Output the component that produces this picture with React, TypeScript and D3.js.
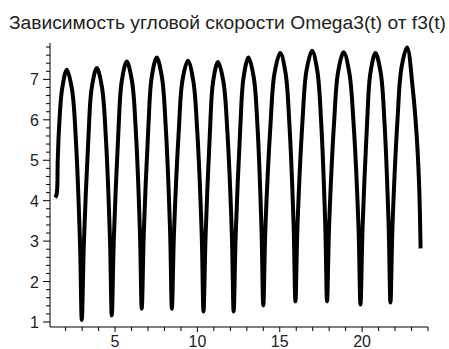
import * as d3 from "d3";

// f3(t) values (x) and Omega3(t) values (y)
const f3 = [
  1.36, 1.45, 1.52, 1.6, 1.78, 2.07,
  2.39, 2.62, 2.87, 2.98,
  3.11, 3.38, 3.58, 3.89, 4.21, 4.44, 4.69, 4.8,
  4.93, 5.2, 5.4, 5.71, 6.03, 6.26, 6.51, 6.62,
  6.75, 7.02, 7.22, 7.53, 7.85, 8.08, 8.34, 8.45,
  8.58, 8.87, 9.09, 9.42, 9.75, 9.99, 10.26, 10.37,
  10.5, 10.76, 10.95, 11.25, 11.58, 11.82, 12.09, 12.2,
  12.33, 12.6, 12.8, 13.1, 13.42, 13.65, 13.89, 14.0,
  14.13, 14.44, 14.68, 15.03, 15.35, 15.58, 15.84, 15.95,
  16.08, 16.38, 16.62, 16.96, 17.28, 17.51, 17.76, 17.87,
  18.0, 18.3, 18.54, 18.88, 19.22, 19.48, 19.78, 19.9,
  20.03, 20.3, 20.5, 20.81, 21.13, 21.36, 21.61, 21.72,
  21.85, 22.15, 22.39, 22.73, 23.08, 23.33, 23.47, 23.55,
];
const omega3 = [
  4.08, 4.15, 5.0, 5.8, 6.75, 7.24,
  6.74, 5.51, 2.97, 1.05,
  2.98, 5.54, 6.78, 7.28, 6.79, 5.57, 3.06, 1.16,
  3.11, 5.68, 6.94, 7.44, 6.95, 5.73, 3.22, 1.33,
  3.26, 5.8, 7.04, 7.54, 7.04, 5.8, 3.26, 1.33,
  3.23, 5.74, 6.97, 7.46, 6.96, 5.72, 3.18, 1.26,
  3.17, 5.7, 6.94, 7.43, 6.94, 5.7, 3.17, 1.26,
  3.21, 5.78, 7.04, 7.54, 7.05, 5.82, 3.31, 1.41,
  3.34, 5.9, 7.15, 7.65, 7.16, 5.93, 3.41, 1.51,
  3.43, 5.97, 7.21, 7.71, 7.21, 5.97, 3.43, 1.51,
  3.42, 5.95, 7.18, 7.67, 7.17, 5.92, 3.36, 1.43,
  3.36, 5.91, 7.15, 7.65, 7.16, 5.92, 3.39, 1.48,
  3.44, 6.02, 7.29, 7.79, 6.75, 5.5, 4.27, 2.82,
];

const xMajor = [5, 10, 15, 20];
const yMajor = [1, 2, 3, 4, 5, 6, 7];

const title = "Зависимость угловой скорости Omega3(t) от f3(t)";

export default function App() {
  const width = 449;
  const height = 349;

  const x = d3.scaleLinear().domain([1.05, 24]).range([50, 428]);
  const y = d3.scaleLinear().domain([0.876, 7.9]).range([327, 43]);

  const pts: [number, number][] = f3.map((v, i) => [v, omega3[i]]);
  const line = d3
    .line<[number, number]>()
    .x((d) => x(d[0]))
    .y((d) => y(d[1]))
    .curve(d3.curveCatmullRom.alpha(0.5));

  const xMinor = d3.range(2, 25, 1);
  const yMinor = d3.range(1, 7.81, 0.2);

  const font = "'Liberation Sans', Arial, sans-serif";
  const ink = "#222";

  return (
    <svg
      width={width}
      height={height}
      style={{ position: "absolute", left: 0, top: 0, background: "#fff" }}
    >
      <text
        x={9}
        y={29}
        fontFamily={font}
        fontSize={18}
        fill={ink}
        textLength={437}
        lengthAdjust="spacingAndGlyphs"
      >
        {title}
      </text>

      {/* axes */}
      <line x1={50} x2={50} y1={43} y2={327} stroke="#000" strokeWidth={1} />
      <line x1={50} x2={428} y1={327} y2={327} stroke="#000" strokeWidth={1} />

      {xMinor.map((t) => (
        <line
          key={"xt" + t}
          x1={x(t)}
          x2={x(t)}
          y1={327}
          y2={xMajor.includes(t) ? 332 : 331}
          stroke="#000"
          strokeWidth={1}
        />
      ))}
      {xMajor.map((t) => (
        <text
          key={"xl" + t}
          x={x(t)}
          y={347}
          textAnchor="middle"
          fontFamily={font}
          fontSize={16}
          fill={ink}
        >
          {t}
        </text>
      ))}

      {yMinor.map((t) => {
        const major = Math.abs(t - Math.round(t)) < 1e-6;
        return (
          <line
            key={"yt" + t.toFixed(1)}
            x1={major ? 43 : 46}
            x2={50}
            y1={y(t)}
            y2={y(t)}
            stroke="#000"
            strokeWidth={1}
          />
        );
      })}
      {yMajor.map((t) => (
        <text
          key={"yl" + t}
          x={39}
          y={y(t) + 6}
          textAnchor="end"
          fontFamily={font}
          fontSize={16}
          fill={ink}
        >
          {t}
        </text>
      ))}

      <path
        d={line(pts) ?? ""}
        fill="none"
        stroke="#000"
        strokeWidth={4}
        strokeLinejoin="miter"
      />
    </svg>
  );
}
